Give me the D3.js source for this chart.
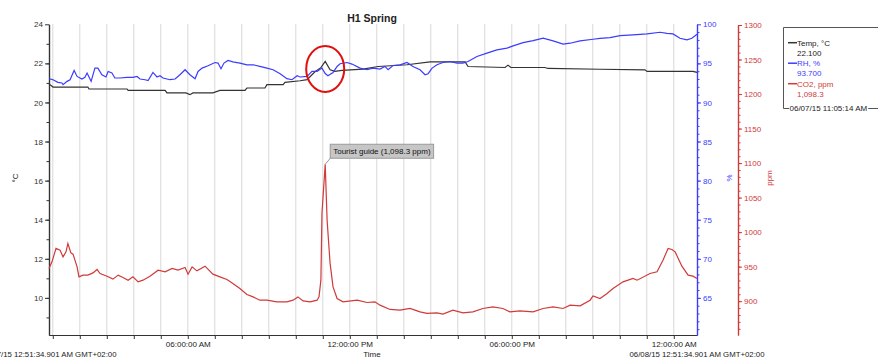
<!DOCTYPE html>
<html>
<head>
<meta charset="utf-8">
<script src="https://cdn.jsdelivr.net/npm/d3@7"></script>
<style>
  body { margin: 0; background: #fff; }
  svg { font-family: "Liberation Sans", Arial, sans-serif; }
  .tick text { font-size: 8px; }
</style>
</head>
<body>
<div id="chartArea"></div>
<script>
// hours since the start of the record (06/07/15 12:51:34.901 AM)
let tempHours = [0, 0.15, 1.44, 1.48, 2.89, 2.93, 4.30, 4.37, 5.07, 5.22, 5.33, 6.07, 6.33, 7.26, 7.33, 8.00, 8.07, 8.67, 8.74, 9.30, 9.56, 9.85, 10.07, 10.23, 10.41, 10.59, 10.85, 11.63, 12.19, 13.26, 14.11, 15.41, 15.52, 16.89, 17.00, 17.11, 18.37, 18.48, 20.41, 22.07, 22.15, 23.85, 24]
let tempValues = [20.95, 20.79, 20.79, 20.69, 20.69, 20.62, 20.62, 20.49, 20.49, 20.40, 20.49, 20.49, 20.62, 20.62, 20.74, 20.74, 20.91, 20.91, 21.03, 21.11, 21.17, 21.57, 21.78, 22.10, 21.67, 21.59, 21.64, 21.71, 21.84, 21.93, 22.08, 22.08, 21.84, 21.79, 21.91, 21.79, 21.79, 21.74, 21.70, 21.67, 21.59, 21.59, 21.54]

let rhHours = [0, 0.15, 0.33, 0.48, 0.52, 0.67, 0.78, 0.93, 1.04, 1.22, 1.33, 1.41, 1.56, 1.70, 1.81, 1.96, 2.11, 2.19, 2.33, 2.44, 2.63, 2.89, 3.11, 3.26, 3.37, 3.56, 3.67, 3.85, 4.00, 4.11, 4.22, 4.48, 4.67, 4.85, 5.04, 5.22, 5.41, 5.52, 5.67, 5.89, 6.15, 6.26, 6.37, 6.48, 6.63, 6.81, 7.07, 7.33, 7.56, 7.81, 8.07, 8.30, 8.56, 8.81, 9.00, 9.19, 9.30, 9.56, 9.74, 9.93, 10.11, 10.23, 10.33, 10.52, 10.67, 10.78, 11.04, 11.22, 11.52, 11.78, 12.00, 12.26, 12.44, 12.56, 12.74, 13.00, 13.26, 13.48, 13.74, 13.93, 14.04, 14.19, 14.37, 14.59, 14.85, 15.11, 15.33, 15.52, 15.85, 16.22, 16.59, 16.96, 17.19, 17.56, 17.93, 18.30, 18.67, 19.04, 19.30, 19.67, 20.15, 20.41, 20.78, 21.15, 21.63, 22.15, 22.63, 22.89, 23.11, 23.37, 23.63, 23.81, 24]
let rhValues = [93.04, 92.91, 92.57, 92.49, 92.27, 92.70, 92.91, 94.10, 93.33, 93.00, 93.21, 93.77, 92.70, 94.40, 94.40, 93.55, 93.26, 93.97, 93.77, 93.13, 93.13, 93.21, 93.21, 93.33, 93.00, 92.91, 92.79, 93.84, 93.26, 93.42, 93.13, 92.91, 93.00, 93.55, 94.19, 93.55, 93.04, 93.97, 94.40, 94.69, 95.11, 95.04, 94.31, 95.04, 95.37, 95.20, 95.04, 94.82, 94.82, 94.61, 94.40, 94.19, 93.68, 93.04, 92.91, 93.42, 93.26, 93.33, 93.97, 93.97, 94.40, 93.70, 93.42, 93.84, 94.61, 94.95, 95.11, 94.91, 94.40, 94.19, 94.40, 94.27, 94.61, 94.19, 94.73, 94.82, 95.11, 94.61, 94.19, 93.55, 93.68, 94.40, 94.82, 95.11, 95.24, 95.04, 95.04, 95.24, 95.88, 96.31, 96.73, 96.95, 97.24, 97.66, 97.91, 98.22, 97.88, 97.46, 97.58, 97.88, 98.09, 98.19, 98.30, 98.55, 98.64, 98.77, 98.98, 98.85, 98.77, 98.22, 98.00, 98.22, 98.73]

let co2Hours = [0, 0.11, 0.26, 0.41, 0.52, 0.63, 0.70, 0.81, 0.89, 1.04, 1.11, 1.26, 1.44, 1.63, 1.78, 1.89, 2.15, 2.37, 2.56, 2.74, 2.93, 3.11, 3.30, 3.48, 3.74, 4.04, 4.30, 4.56, 4.78, 5.04, 5.15, 5.30, 5.48, 5.78, 6.07, 6.33, 6.59, 6.81, 7.07, 7.33, 7.56, 7.81, 8.07, 8.44, 8.81, 9.04, 9.22, 9.41, 9.67, 9.93, 10.00, 10.07, 10.11, 10.23, 10.30, 10.41, 10.52, 10.67, 10.89, 11.41, 11.78, 12.07, 12.26, 12.63, 13.00, 13.37, 13.74, 14.00, 14.37, 14.59, 14.96, 15.33, 15.70, 16.07, 16.44, 16.81, 17.07, 17.44, 17.93, 18.30, 18.67, 19.04, 19.30, 19.67, 20.04, 20.15, 20.41, 20.67, 20.89, 21.26, 21.63, 21.78, 22.26, 22.52, 22.74, 22.93, 23.07, 23.19, 23.44, 23.67, 23.85, 24]
let co2Values = [947.4, 957.0, 976.4, 973.9, 964.2, 971.4, 983.6, 970.0, 968.1, 949.7, 935.2, 937.7, 937.7, 941.0, 945.9, 940.1, 936.2, 931.9, 937.7, 934.3, 930.4, 935.2, 928.0, 930.4, 936.2, 944.9, 942.5, 947.4, 944.9, 948.8, 939.1, 949.7, 943.9, 950.7, 939.1, 935.2, 931.4, 925.7, 918.4, 909.7, 906.2, 901.4, 901.4, 899.0, 899.0, 901.4, 906.2, 900.4, 899.0, 901.4, 906.2, 930.4, 1027.5, 1098.3, 1017.4, 955.1, 920.7, 903.9, 899.0, 901.4, 898.1, 899.0, 894.2, 888.0, 887.0, 889.4, 884.5, 882.2, 883.0, 881.2, 887.0, 883.0, 884.5, 889.4, 891.7, 889.4, 884.5, 886.0, 884.5, 889.4, 891.7, 889.4, 894.2, 893.2, 901.4, 907.7, 903.9, 911.2, 918.4, 928.0, 932.9, 930.4, 940.1, 942.5, 959.4, 976.4, 974.9, 971.4, 950.7, 937.7, 936.2, 932.9]

let tempTicks = [10, 12, 14, 16, 18, 20, 22, 24]
let rhTicks = [65, 70, 75, 80, 85, 90, 95, 100]
let co2Ticks = [900, 950, 1000, 1050, 1100, 1150, 1200, 1250, 1300]

let seriesNames = ['Temp, °C', 'RH, %', 'CO2, ppm']
let seriesReadings = ['22.100', '93.700', '1,098.3']
let seriesColors = ['#333333', '#3c3cff', '#d03a3a']
let markerTime = '06/07/15 11:05:14 AM'
let noteText = 'Tourist guide (1,098.3 ppm)'

let svgWidth = 878
let svgHeight = 360

let start = new Date(2015, 5, 7, 0, 51, 34, 901)
let toDate = h => new Date(start.getTime() + h * 3600000)
let end = toDate(24)

let xScale = d3.scaleTime().domain([start, end]).range([49, 697])
let yTemp = d3.scaleLinear().domain([8.1, 24]).range([335, 24.3])
let yRh = d3.scaleLinear().domain([60.25, 100]).range([335, 24.3])
let yCo2 = d3.scaleLinear().domain([851, 1300]).range([335, 25])

let svg = d3.select('#chartArea')
  .append('svg')
  .attr('width', svgWidth)
  .attr('height', svgHeight)

// hourly vertical grid
let hours = d3.timeHour.range(d3.timeHour.ceil(start), end)
svg.append('g')
  .selectAll('line')
  .data(hours)
  .enter()
  .append('line')
  .attr('x1', d => xScale(d))
  .attr('x2', d => xScale(d))
  .attr('y1', 24)
  .attr('y2', 335)
  .attr('stroke', '#d9d9d9')
  .attr('stroke-width', 1)

// title
svg.append('text')
  .attr('x', 372)
  .attr('y', 22)
  .attr('text-anchor', 'middle')
  .attr('font-size', '10.5px')
  .attr('font-weight', 'bold')
  .attr('fill', '#222')
  .text('H1 Spring')

// x axis
let fmtTick = d3.timeFormat('%I:%M:%S %p')
let xAxis = svg.append('g')
  .attr('transform', 'translate(0,335)')
  .call(d3.axisBottom(xScale)
    .tickValues(hours)
    .tickSize(4)
    .tickSizeOuter(0)
    .tickFormat(d => d.getHours() % 6 === 0 ? fmtTick(d) : ''))
xAxis.selectAll('text').attr('fill', '#222').attr('y', 6)
xAxis.selectAll('line, path').attr('stroke', '#333')

let fmtEnd = d3.timeFormat('%m/%d/%y %I:%M:%S.%L %p')
svg.append('g')
  .selectAll('text')
  .data([start, end])
  .enter()
  .append('text')
  .attr('x', d => xScale(d))
  .attr('y', 357)
  .attr('text-anchor', 'middle')
  .attr('font-size', '7.8px')
  .attr('fill', '#222')
  .text(d => fmtEnd(d) + ' GMT+02:00')

svg.append('text')
  .attr('x', 372)
  .attr('y', 357)
  .attr('text-anchor', 'middle')
  .attr('font-size', '8px')
  .attr('fill', '#222')
  .text('Time')

// y axes: major ticks with labels, minor ticks without
function yAxis(scale, major, minor, xPos, left, color) {
  let g = svg.append('g').attr('transform', 'translate(' + xPos + ',0)')
  let make = left ? d3.axisLeft : d3.axisRight
  g.append('g')
    .call(make(scale).tickValues(minor).tickSize(2.5).tickSizeOuter(0).tickFormat(''))
  g.append('g')
    .call(make(scale).tickValues(major).tickSize(4).tickSizeOuter(0).tickPadding(2).tickFormat(d3.format('d')))
  g.selectAll('path, line').attr('stroke', color)
  g.selectAll('text').attr('fill', color)
  g.selectAll('path').attr('stroke-width', 1.2)
  return g
}

yAxis(yTemp, tempTicks, d3.range(9, 24, 1), 49, true, '#333')
yAxis(yRh, rhTicks, d3.range(61, 100, 1), 697, false, '#3c3cff')
yAxis(yCo2, co2Ticks, d3.range(860, 1300, 10), 738, false, '#d03a3a')

let axisTitles = [
  { text: '°C', x: 15, color: '#222' },
  { text: '%', x: 729, color: '#3c3cff' },
  { text: 'ppm', x: 769, color: '#d03a3a' }
]
svg.append('g')
  .selectAll('text')
  .data(axisTitles)
  .enter()
  .append('text')
  .attr('transform', d => 'translate(' + d.x + ',178) rotate(-90)')
  .attr('text-anchor', 'middle')
  .attr('dy', '0.35em')
  .attr('font-size', '8px')
  .attr('fill', d => d.color)
  .text(d => d.text)

// series lines
let series = [
  { hours: tempHours, values: tempValues, y: yTemp, color: seriesColors[0] },
  { hours: rhHours, values: rhValues, y: yRh, color: seriesColors[1] },
  { hours: co2Hours, values: co2Values, y: yCo2, color: seriesColors[2] }
]
series.forEach(s => {
  let line = d3.line()
    .x((d, i) => xScale(toDate(s.hours[i])))
    .y(d => s.y(d))
  svg.append('path')
    .datum(s.values)
    .attr('d', line)
    .attr('fill', 'none')
    .attr('stroke', s.color)
    .attr('stroke-width', 1.2)
})

// red circle around the temperature peak
let peakIdx = tempValues.indexOf(d3.max(tempValues))
let peakX = xScale(toDate(tempHours[peakIdx]))
svg.append('ellipse')
  .attr('cx', peakX)
  .attr('cy', yTemp(tempValues[peakIdx]) + 7.5)
  .attr('rx', 19)
  .attr('ry', 23)
  .attr('fill', 'none')
  .attr('stroke', '#e01010')
  .attr('stroke-width', 2)

// annotation on the CO2 spike
let co2Idx = co2Values.indexOf(d3.max(co2Values))
let noteX = xScale(toDate(co2Hours[co2Idx]))
let noteY = yCo2(co2Values[co2Idx])
svg.append('line')
  .attr('x1', noteX)
  .attr('y1', noteY)
  .attr('x2', noteX + 6)
  .attr('y2', noteY - 7)
  .attr('stroke', '#999')
let noteRect = svg.append('rect')
  .attr('x', noteX + 5)
  .attr('y', noteY - 20)
  .attr('height', 14)
  .attr('fill', '#c6c6c6')
  .attr('stroke', '#9a9a9a')
let note = svg.append('text')
  .attr('x', noteX + 8)
  .attr('y', noteY - 13)
  .attr('dy', '0.35em')
  .attr('font-size', '8px')
  .attr('fill', '#111')
  .text(noteText)
noteRect.attr('width', note.node().getComputedTextLength() + 6)

// legend box
let legend = svg.append('g')
legend.append('path')
  .attr('d', 'M789,108.5 H783.5 V27.5 H878')
  .attr('fill', 'none')
  .attr('stroke', '#555')
let markText = legend.append('text')
  .attr('x', 789.5)
  .attr('y', 108.5)
  .attr('dy', '0.35em')
  .attr('font-size', '8px')
  .attr('fill', '#222')
  .text(markerTime)
let markEnd = 789.5 + markText.node().getComputedTextLength() + 1
legend.append('line')
  .attr('x1', markEnd)
  .attr('x2', 878)
  .attr('y1', 108.5)
  .attr('y2', 108.5)
  .attr('stroke', '#555')

seriesNames.forEach((name, i) => {
  let y = 42.7 + i * 20.5
  legend.append('line')
    .attr('x1', 788)
    .attr('x2', 797)
    .attr('y1', y)
    .attr('y2', y)
    .attr('stroke', seriesColors[i])
    .attr('stroke-width', 1.5)
  legend.append('text')
    .attr('x', 797)
    .attr('y', y)
    .attr('dy', '0.35em')
    .attr('font-size', '8px')
    .attr('fill', i === 0 ? '#222' : seriesColors[i])
    .text(name)
  legend.append('text')
    .attr('x', 797)
    .attr('y', y + 10)
    .attr('dy', '0.35em')
    .attr('font-size', '8px')
    .attr('fill', i === 0 ? '#222' : seriesColors[i])
    .text(seriesReadings[i])
})
</script>
</body>
</html>
